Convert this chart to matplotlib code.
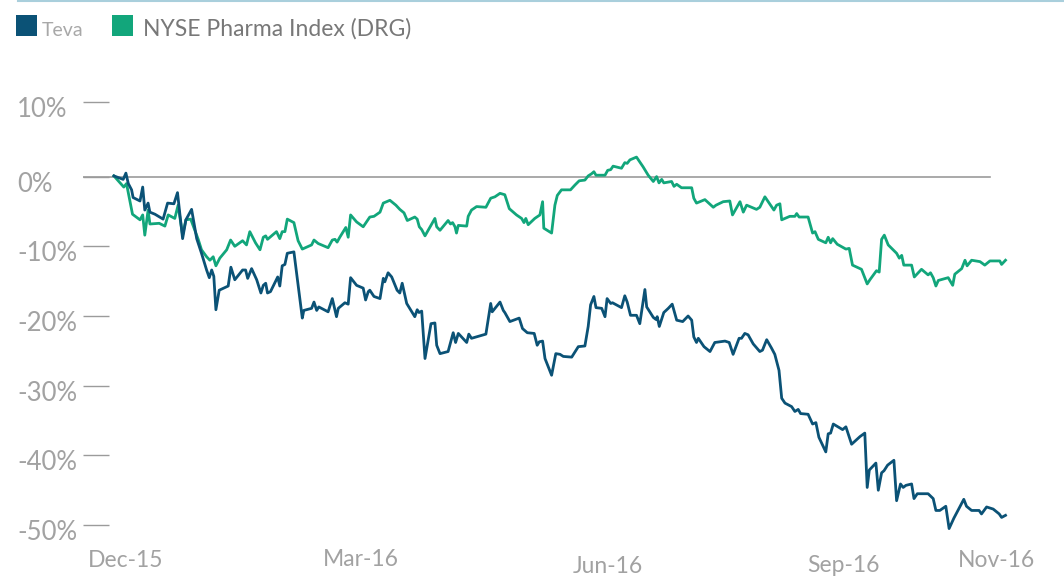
import matplotlib
matplotlib.use("Agg")
import matplotlib.pyplot as plt
import matplotlib.transforms as mtransforms
from matplotlib.lines import Line2D
from matplotlib.patches import Rectangle

plt.rcParams['font.family'] = ['Lato', 'DejaVu Sans']

# days since start of the period, % change
teva_day = [0, 3.1, 4.0, 4.8, 5.9, 6.4, 8.7, 9.6, 10.3, 11.4, 12.0, 13.7, 16.4, 17.9, 20.0, 21.2, 22.9, 24.0,
            25.9, 27.6, 29.2, 30.9, 31.8, 32.6, 33.3, 34.0, 35.1, 38.1, 39.0, 40.3, 42.9, 43.9, 44.6, 45.9,
            47.6, 49.0, 49.8, 50.6, 51.2, 52.2, 54.6, 55.3, 56.1, 57.0, 57.8, 60.0, 62.8, 63.3, 65.9, 66.7,
            67.6, 68.3, 71.4, 72.8, 74.2, 74.8, 77.0, 78.1, 78.9, 80.9, 83.1, 83.9, 84.8, 85.3, 86.7, 88.7,
            89.8, 90.3, 91.4, 92.6, 94.4, 95.3, 96.1, 97.6, 100.3, 101.1, 101.7, 102.6, 103.7, 105.7, 107.0,
            107.6, 108.7, 111.4, 113.1, 113.9, 114.8, 117.6, 118.3, 119.2, 124.0, 125.6, 126.1, 128.7, 129.8,
            130.3, 132.0, 135.1, 136.2, 137.8, 140.1, 141.1, 141.8, 142.9, 143.7, 145.9, 147.3, 148.7, 149.8,
            152.6, 154.8, 157.0, 158.1, 158.9, 160.0, 160.7, 162.6, 163.7, 164.4, 165.6, 166.2, 169.2, 170.3,
            171.1, 172.2, 174.2, 175.3, 177.0, 177.6, 179.8, 180.7, 181.1, 181.8, 183.3, 184.8, 186.1, 187.6,
            189.6, 191.4, 192.6, 193.3, 194.2, 194.8, 196.7, 198.7, 200.3, 203.7, 205.1, 206.4, 208.4, 209.2,
            210.3, 211.4, 213.1, 215.3, 216.2, 217.6, 219.2, 220.3, 221.7, 222.6, 223.7, 225.9, 227.0, 228.1,
            228.9, 231.4, 232.9, 234.0, 235.0, 237.3, 238.1, 238.9, 239.8, 242.9, 244.0, 245.9, 248.7, 250.3,
            251.1, 251.8, 254.0, 254.8, 255.9, 256.7, 257.9, 260.0, 260.9, 262.2, 263.1, 264.0, 265.9, 266.7,
            267.8, 271.4, 273.1, 274.0, 275.3, 277.3, 278.4, 280.0, 283.3, 284.2, 285.9, 288.4, 289.2, 290.9,
            293.1, 295.1, 295.9, 297.2]
teva_pct = [0.1, -0.4, 0.5, -1.0, -1.9, -3.0, -3.5, -1.5, -4.8, -3.8, -5.1, -5.4, -6.1, -3.8, -3.9, -2.3, -8.9,
            -6.2, -4.7, -8.9, -11.0, -13.4, -14.5, -13.4, -14.3, -19.1, -16.3, -15.7, -13.0, -14.8, -13.4,
            -13.4, -14.6, -13.2, -14.8, -16.7, -15.6, -15.3, -16.7, -16.5, -14.4, -15.7, -12.8, -12.6, -11.0,
            -10.8, -20.3, -19.2, -18.9, -18.0, -19.2, -18.7, -19.4, -17.5, -20.1, -18.9, -18.1, -18.3, -14.5,
            -15.6, -16.0, -17.7, -16.5, -16.3, -17.2, -17.5, -14.6, -15.1, -13.8, -14.4, -16.3, -16.7, -15.3,
            -18.2, -20.1, -19.1, -19.5, -19.3, -26.1, -21.1, -21.0, -24.2, -25.4, -25.1, -22.4, -23.8, -22.5,
            -23.8, -22.6, -23.2, -22.6, -18.2, -19.4, -18.0, -19.2, -19.5, -20.8, -20.3, -21.8, -22.4, -22.5,
            -24.2, -23.7, -23.6, -26.1, -28.5, -25.4, -25.5, -25.8, -25.9, -24.4, -24.3, -21.5, -18.4, -17.2,
            -18.8, -18.9, -20.1, -17.5, -18.2, -18.1, -18.8, -17.1, -18.0, -19.9, -19.9, -21.1, -16.2, -18.7,
            -20.2, -20.5, -20.1, -21.5, -19.5, -18.9, -18.3, -20.6, -20.8, -20.0, -20.6, -23.0, -23.8, -23.2,
            -24.4, -25.1, -23.8, -23.6, -23.8, -25.5, -23.2, -23.2, -22.5, -22.7, -24.0, -25.1, -24.9, -23.4,
            -24.6, -25.5, -27.8, -31.8, -32.5, -33.0, -33.7, -33.4, -34.0, -34.1, -35.5, -35.3, -37.4, -39.5,
            -36.9, -36.8, -35.5, -36.3, -35.9, -38.4, -37.3, -36.8, -44.6, -42.1, -41.1, -45.0, -42.5, -42.2,
            -41.4, -40.7, -46.5, -44.1, -44.6, -44.3, -44.1, -46.2, -45.5, -45.5, -46.2, -47.9, -47.9, -47.3,
            -50.5, -49.0, -46.3, -47.3, -47.9, -47.9, -48.4, -47.4, -47.7, -48.4, -48.9, -48.6]

drg_day = [0, 3.3, 4.2, 5.3, 6.2, 8.7, 9.6, 10.3, 11.4, 12.0, 15.1, 17.0, 18.1, 20.3, 21.4, 22.9, 24.0, 25.6,
           27.0, 28.1, 29.2, 30.9, 32.0, 33.1, 34.0, 35.3, 37.6, 38.9, 40.3, 42.9, 44.2, 45.3, 47.2, 48.7,
           49.8, 50.6, 51.2, 54.2, 55.3, 56.1, 57.0, 57.8, 60.0, 61.4, 62.8, 65.9, 66.7, 68.1, 71.4, 72.8,
           73.7, 74.4, 75.3, 77.3, 78.1, 78.9, 80.9, 83.1, 85.3, 86.7, 88.7, 89.8, 92.0, 94.0, 95.3, 96.7,
           97.8, 100.3, 101.1, 101.8, 102.6, 103.7, 107.0, 107.6, 108.7, 111.4, 112.2, 112.9, 113.7, 114.2,
           114.8, 117.6, 118.1, 119.2, 120.9, 124.0, 125.6, 127.0, 128.7, 130.3, 131.8, 134.2, 135.9, 136.7,
           137.3, 138.1, 140.3, 142.0, 142.9, 143.3, 145.9, 147.0, 147.8, 149.2, 152.2, 153.7, 155.1, 157.0,
           158.1, 159.2, 160.0, 160.7, 163.7, 164.6, 165.6, 166.4, 169.2, 170.3, 171.1, 172.0, 174.2, 175.3,
           176.4, 178.1, 179.8, 180.9, 181.7, 182.6, 183.3, 185.9, 186.7, 187.6, 189.2, 192.6, 193.3, 194.2,
           197.0, 199.8, 200.7, 203.1, 205.3, 206.2, 207.8, 208.7, 209.8, 210.9, 214.2, 215.3, 217.0, 220.0,
           220.9, 222.0, 222.6, 225.3, 227.0, 227.6, 228.4, 231.4, 232.9, 233.7, 234.8, 237.3, 238.1, 238.9,
           239.6, 241.1, 244.0, 245.1, 246.2, 249.2, 251.1, 252.0, 254.2, 255.1, 255.9, 256.8, 258.1, 260.9,
           261.8, 262.6, 263.3, 265.9, 266.8, 269.2, 271.4, 272.2, 273.1, 274.0, 274.8, 278.1, 279.6, 280.3,
           282.6, 283.7, 284.4, 285.9, 288.7, 290.3, 292.0, 295.3, 295.9, 297.2]
drg_pct = [0.1, -1.5, -1.0, -3.4, -5.4, -6.2, -5.5, -8.4, -4.8, -6.8, -6.7, -7.1, -5.5, -6.0, -4.1, -8.4, -6.2,
           -6.1, -7.7, -9.0, -10.5, -11.5, -12.0, -11.5, -12.8, -11.7, -10.5, -9.1, -10.0, -9.2, -9.8, -7.9,
           -9.5, -10.5, -8.7, -8.5, -9.0, -7.9, -8.9, -7.9, -7.9, -6.1, -6.6, -9.2, -10.4, -9.8, -9.1, -9.6,
           -10.2, -9.1, -9.0, -9.4, -8.7, -7.3, -8.7, -5.5, -6.5, -7.2, -5.8, -5.7, -5.1, -3.8, -3.4, -4.1,
           -4.7, -5.2, -6.3, -5.8, -6.1, -7.2, -7.6, -8.5, -6.0, -7.2, -7.7, -6.3, -6.8, -6.6, -7.2, -8.1,
           -7.0, -7.1, -5.7, -4.8, -4.3, -4.4, -3.1, -2.9, -2.4, -2.6, -4.6, -5.5, -6.0, -6.6, -6.0, -6.9,
           -6.0, -5.5, -3.6, -7.4, -8.1, -4.1, -2.7, -1.9, -1.9, -1.2, -0.6, -0.5, 0.1, 0.4, 0.7, 0.2, 0.2,
           0.9, 1.0, 1.5, 1.2, 2.0, 1.9, 2.4, 2.8, 2.1, 1.4, 0.2, -0.7, 0.0, -0.9, -0.4, -0.9, -0.7, -1.4,
           -1.1, -1.6, -1.6, -3.1, -3.8, -3.3, -4.4, -4.1, -3.6, -3.5, -5.5, -4.3, -3.6, -5.1, -4.1, -4.7,
           -4.4, -2.9, -4.8, -4.1, -3.9, -6.2, -5.7, -5.7, -5.3, -5.8, -5.8, -8.1, -7.9, -9.0, -9.5, -8.7,
           -9.5, -8.9, -9.7, -10.4, -10.3, -12.7, -13.3, -15.4, -14.8, -13.5, -13.7, -9.0, -8.4, -9.8, -11.0,
           -11.7, -11.3, -12.7, -12.7, -14.4, -13.3, -14.1, -13.8, -14.5, -15.7, -14.9, -14.5, -15.6, -14.0,
           -13.2, -12.0, -12.8, -12.0, -12.2, -12.7, -12.1, -12.1, -12.6, -12.0]

x_ticks = [4, 82.3, 164.8, 243.3, 294.2]
x_labels = ['Dec-15', 'Mar-16', 'Jun-16', 'Sep-16', 'Nov-16']
x_pads = [3, 2, 7.5, 6.5, 3]
y_ticks = [10.7, 0, -10, -20, -30, -40, -50]
y_labels = ['10%', '0%', '-10%', '-20%', '-30%', '-40%', '-50%']

teva_color = '#0b5276'
drg_color = '#12a67b'
grey = '#9b9b9b'
label_grey = '#a2a2a2'

fig = plt.figure(figsize=(10.64, 5.79), dpi=100)
ax = fig.add_axes([83 / 1064, 33 / 579, 927 / 1064, 460 / 579])

ax.axhline(0, xmin=0, xmax=0.978, color=grey, lw=1.2, zorder=1)
ax.plot(teva_day, teva_pct, color=teva_color, lw=2.0, zorder=3)
ax.plot(drg_day, drg_pct, color=drg_color, lw=2.0, zorder=2)

ax.set_xlim(-10.3, 298.7)
ax.set_ylim(-53, 13)

for s in ax.spines.values():
    s.set_visible(False)

ax.set_yticks(y_ticks, y_labels)
ax.tick_params(axis='y', direction='in', length=18.7, width=1.0, color=grey,
               labelsize=18.5, labelcolor=label_grey, pad=47.5)
off = mtransforms.ScaledTranslation(0, -5 / 100, fig.dpi_scale_trans)
for lab in ax.get_yticklabels():
    lab.set_ha('left')
    lab.set_transform(lab.get_transform() + off)

ax.set_xticks(x_ticks, x_labels)
ax.tick_params(axis='x', length=0, labelsize=16.5, labelcolor=label_grey)
for t, p in zip(ax.xaxis.get_major_ticks(), x_pads):
    t.set_pad(p)

# legend
fig.add_artist(Rectangle((16 / 1064, 1 - 36 / 579), 21 / 1064, 21 / 579,
                         transform=fig.transFigure, color=teva_color, lw=0))
fig.text(42 / 1064, 1 - 36 / 579, 'Teva', fontsize=14, color='#a8a8a8', va='baseline')
fig.add_artist(Rectangle((112 / 1064, 1 - 36 / 579), 21 / 1064, 21 / 579,
                         transform=fig.transFigure, color=drg_color, lw=0))
fig.text(143 / 1064, 1 - 36 / 579, 'NYSE Pharma Index (DRG)', fontsize=16.5,
         color='#787878', va='baseline')

fig.add_artist(Line2D([18 / 1064, 1], [1 - 1 / 579, 1 - 1 / 579],
                      transform=fig.transFigure, color='#a9cfdc', lw=1.5))

fig.savefig('out.png', dpi=100)
